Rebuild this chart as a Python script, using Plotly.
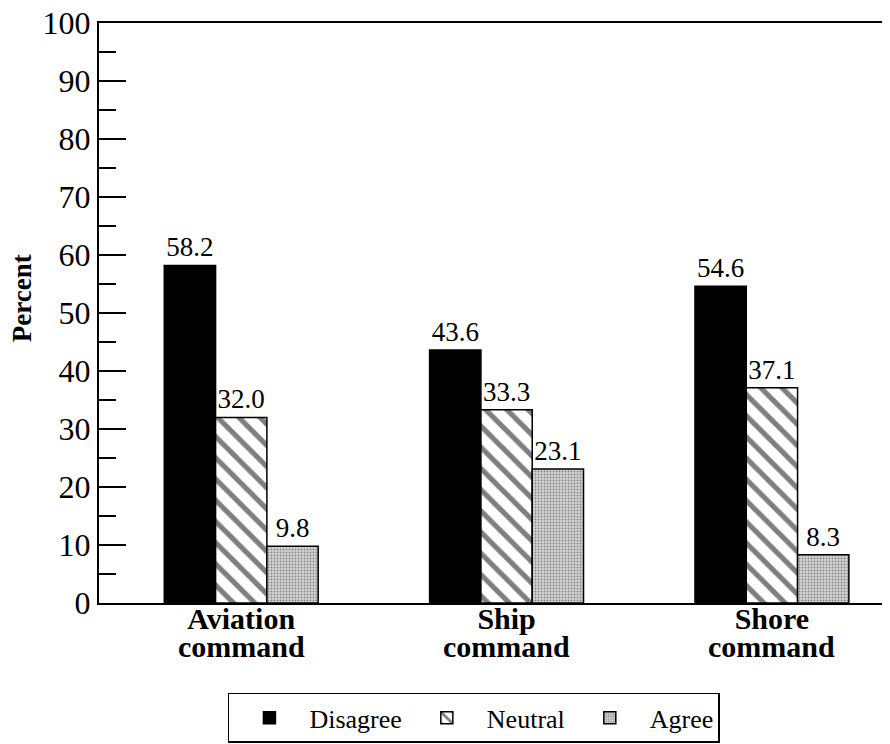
import plotly.graph_objects as go

commands = ["Aviation", "Ship", "Shore"]
second_line = ["command", "command", "command"]
disagree = [58.2, 43.6, 54.6]
neutral = [32.0, 33.3, 37.1]
agree = [9.8, 23.1, 8.3]

FONT = "Liberation Serif"
x_pos = [0, 1, 2]


def bar(name, values, pattern, color):
    return go.Bar(
        name=name,
        x=x_pos,
        y=values,
        text=[f"{v:.1f}" for v in values],
        textposition="outside",
        textfont=dict(family=FONT, size=27, color="black"),
        cliponaxis=False,
        marker=dict(color=color, line=dict(color="black", width=1.5), pattern=pattern),
    )


fig = go.Figure()
fig.add_trace(bar("Disagree", disagree, dict(shape=""), "black"))
fig.add_trace(
    bar("Neutral", neutral,
        dict(shape="\\", fgcolor="black", bgcolor="white", size=15, solidity=0.35,
             fillmode="overlay"),
        "white")
)
fig.add_trace(
    bar("Agree", agree,
        dict(shape=".", fgcolor="#3c3c3c", bgcolor="#d4d4d4", size=3, solidity=0.35,
             fillmode="overlay"),
        "#d4d4d4")
)

# second line of the category labels, kept tight like the original
for x, word in zip(x_pos, second_line):
    fig.add_annotation(
        x=x, y=-0.075, xref="x", yref="paper", text=f"<b>{word}</b>",
        showarrow=False, yanchor="middle",
        font=dict(family=FONT, size=30, color="black"),
    )

# y title, placed a bit above centre as in the original
fig.add_annotation(
    x=-0.097, y=0.526, xref="paper", yref="paper", text="<b>Percent</b>",
    textangle=-90, showarrow=False, xanchor="center", yanchor="middle",
    font=dict(family=FONT, size=27, color="black"),
)

# page body adds an 8px margin, so the figure is 8px smaller than the window
fig.update_layout(
    width=882,
    height=736,
    barmode="group",
    bargap=0.42,
    bargroupgap=0,
    margin=dict(l=91, r=0, t=15, b=141, autoexpand=False),
    plot_bgcolor="white",
    paper_bgcolor="white",
    font=dict(family=FONT, color="black"),
    legend=dict(
        orientation="h",
        x=0.163, xanchor="left",
        y=-0.155, yanchor="top",
        bordercolor="black", borderwidth=1.5,
        font=dict(family=FONT, size=26, color="black"),
        itemwidth=70,
    ),
)

fig.update_xaxes(
    range=[-0.536, 2.445],
    tickvals=x_pos,
    ticktext=[f"<b>{c}</b>" for c in commands],
    tickfont=dict(family=FONT, size=30, color="black"),
    ticks="",
    ticklabelstandoff=-12,
    automargin=False,
    showline=True, linecolor="black", linewidth=2, mirror=True,
    showgrid=False, zeroline=False,
)

fig.update_yaxes(
    range=[0, 100],
    dtick=10,
    ticks="inside", ticklen=27, tickwidth=2, tickcolor="black",
    minor=dict(dtick=5, ticks="inside", ticklen=17, tickwidth=2, tickcolor="black"),
    tickfont=dict(family=FONT, size=32, color="black"),
    ticklabeloverflow="allow",
    automargin=False,
    showline=True, linecolor="black", linewidth=2,
    showgrid=False, zeroline=False,
)

fig.write_html("out.html")
